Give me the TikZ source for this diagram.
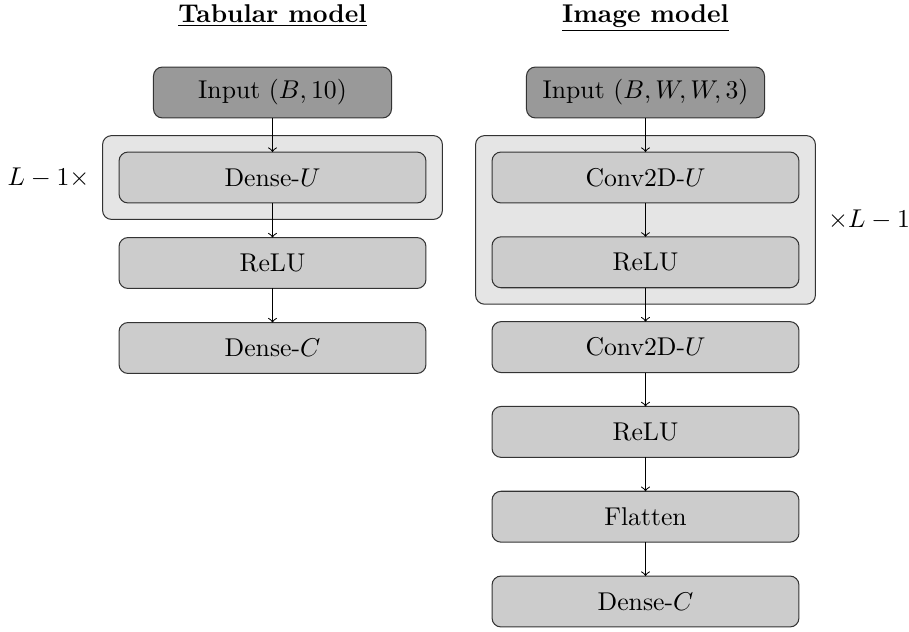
\documentclass[tikz,border=0pt]{standalone}
\usetikzlibrary{fit,backgrounds}
\begin{document}
\begin{tikzpicture}[x=0.389pt,y=-0.389pt,
  layer/.style={draw=black!80,fill=gray!40,rounded corners=3.5pt,minimum width=119.4pt,minimum height=19.8pt,outer sep=0pt},
  inbox/.style={draw=black!80,fill=gray!80,rounded corners=3.5pt,minimum width=92.6pt,minimum height=19.8pt,outer sep=0pt},
  groupbox/.style={draw=black!80,fill=gray!20,rounded corners=3.5pt,inner sep=6.4pt,outer sep=0pt},
  title/.style={font=\bfseries,anchor=base},
  flow/.style={->,black}]
\useasboundingbox (0,0) rectangle (909,631);
% titles
\node[title] (ttitle) at (272.5,22) {\underline{Tabular model}};
\node[title] (ititle) at (645.5,22) {\underline{Image model}};
% tabular model
\node[inbox] (tin) at (272.5,92.5) {Input $(B,10)$};
\node[layer] (tdense) at (272.5,177.5) {Dense-$U$};
\node[layer] (trelu) at (272.5,263) {ReLU};
\node[layer] (tout) at (272.5,348) {Dense-$C$};
% image model
\node[inbox] (iin) at (645.5,92.5) {Input $(B,W,W,3)$};
\node[layer] (iconv) at (645.5,177.5) {Conv2D-$U$};
\node[layer] (irelu) at (645.5,262.3) {ReLU};
\node[layer] (iconvb) at (645.5,347.1) {Conv2D-$U$};
\node[layer] (irelub) at (645.5,431.9) {ReLU};
\node[layer] (iflat) at (645.5,516.7) {Flatten};
\node[layer] (iout) at (645.5,601.5) {Dense-$C$};
% groups
\begin{scope}[on background layer]
\node[groupbox,fit=(tdense)] (tgroup) {};
\node[groupbox,fit=(iconv)(irelu)] (igroup) {};
\end{scope}
\node[anchor=east,xshift=-1.6pt] (tlabel) at (tgroup.west) {$L-1\times$};
\node[anchor=west,xshift=1.4pt] (ilabel) at (igroup.east) {$\times L-1$};
% connectors
\draw[flow] (tin) -- (tdense);
\draw[flow] (tdense) -- (trelu);
\draw[flow] (trelu) -- (tout);
\draw[flow] (iin) -- (iconv);
\draw[flow] (iconv) -- (irelu);
\draw[flow] (irelu) -- (iconvb);
\draw[flow] (iconvb) -- (irelub);
\draw[flow] (irelub) -- (iflat);
\draw[flow] (iflat) -- (iout);
\end{tikzpicture}
\end{document}
